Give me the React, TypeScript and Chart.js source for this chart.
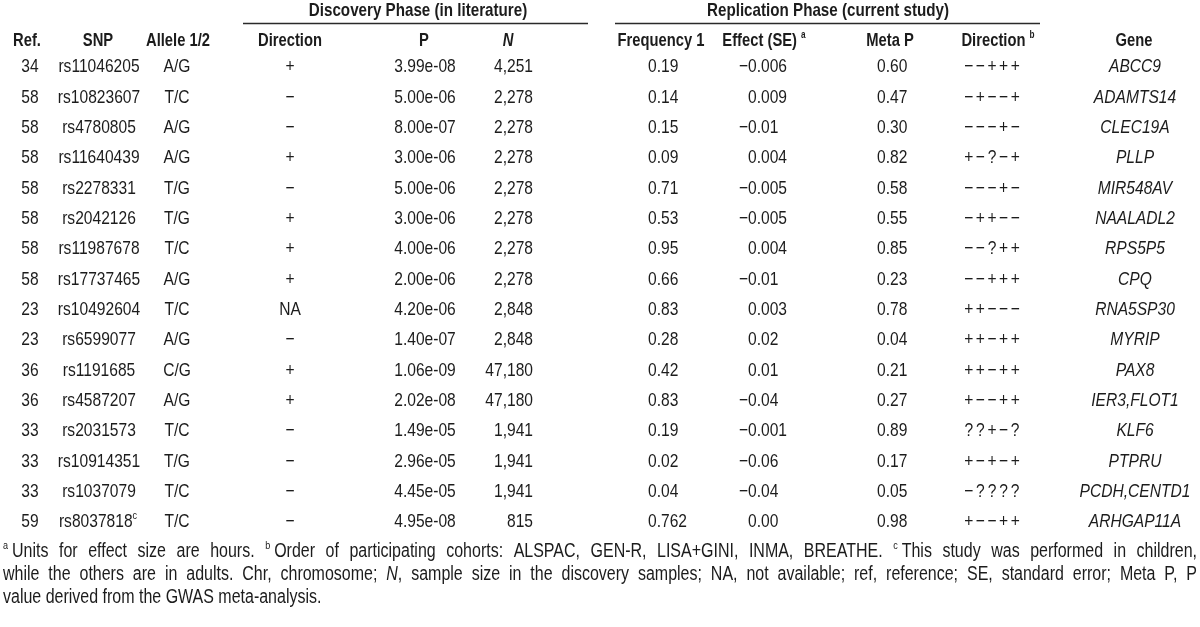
import React, { useEffect, useRef } from "react";
import { Chart, registerables } from "chart.js";
Chart.register(...registerables);

// ---------- DATA ----------
const refs = ["34", "58", "58", "58", "58", "58", "58", "58", "23", "23", "36", "36", "33", "33", "33", "59"];
const snps = ["rs11046205", "rs10823607", "rs4780805", "rs11640439", "rs2278331", "rs2042126", "rs11987678", "rs17737465", "rs10492604", "rs6599077", "rs1191685", "rs4587207", "rs2031573", "rs10914351", "rs1037079", "rs8037818"];
const snpNotes = ["", "", "", "", "", "", "", "", "", "", "", "", "", "", "", "c"];
const alleles = ["A/G", "T/C", "A/G", "A/G", "T/G", "T/G", "T/C", "A/G", "T/C", "A/G", "C/G", "A/G", "T/C", "T/G", "T/C", "T/C"];
const discDirection = ["+", "−", "−", "+", "−", "+", "+", "+", "NA", "−", "+", "+", "−", "−", "−", "−"];
const discP = ["3.99e-08", "5.00e-06", "8.00e-07", "3.00e-06", "5.00e-06", "3.00e-06", "4.00e-06", "2.00e-06", "4.20e-06", "1.40e-07", "1.06e-09", "2.02e-08", "1.49e-05", "2.96e-05", "4.45e-05", "4.95e-08"];
const discN = [4251, 2278, 2278, 2278, 2278, 2278, 2278, 2278, 2848, 2848, 47180, 47180, 1941, 1941, 1941, 815];
const freq1 = ["0.19", "0.14", "0.15", "0.09", "0.71", "0.53", "0.95", "0.66", "0.83", "0.28", "0.42", "0.83", "0.19", "0.02", "0.04", "0.762"];
const effect = ["-0.006", "0.009", "-0.01", "0.004", "-0.005", "-0.005", "0.004", "-0.01", "0.003", "0.02", "0.01", "-0.04", "-0.001", "-0.06", "-0.04", "0.00"];
const metaP = ["0.60", "0.47", "0.30", "0.82", "0.58", "0.55", "0.85", "0.23", "0.78", "0.04", "0.21", "0.27", "0.89", "0.17", "0.05", "0.98"];
const repDirection = ["−−+++", "−+−−+", "−−−+−", "+−?−+", "−−−+−", "−++−−", "−−?++", "−−+++", "++−−−", "++−++", "++−++", "+−−++", "??+−?", "+−+−+", "−????", "+−−++"];
const genes = ["ABCC9", "ADAMTS14", "CLEC19A", "PLLP", "MIR548AV", "NAALADL2", "RPS5P5", "CPQ", "RNA5SP30", "MYRIP", "PAX8", "IER3,FLOT1", "KLF6", "PTPRU", "PCDH,CENTD1", "ARHGAP11A"];

const groupHeaders = ["Discovery Phase (in literature)", "Replication Phase (current study)"];
const footnoteLines = [
  [{ t: "a", sup: true }, { t: "Units for effect size are hours. " }, { t: "b", sup: true }, { t: "Order of participating cohorts: ALSPAC, GEN-R, LISA+GINI, INMA, BREATHE. " }, { t: "c", sup: true }, { t: "This study was performed in children," }],
  [{ t: "while the others are in adults. Chr, chromosome; " }, { t: "N", italic: true }, { t: ", sample size in the discovery samples; NA, not available; ref, reference; SE, standard error; Meta P, P" }],
  [{ t: "value derived from the GWAS meta-analysis." }],
];

// ---------- LAYOUT / STYLE ----------
const FONT = "'Liberation Sans', Arial, sans-serif";
const SX = 0.82; // condensed face emulation
const BODY = 19;
const HEAD = 18;
const GROUP = 18.5;
const FOOT = 19.5;
const INK = "#1c1c1c";
const W = 1200, H = 627;
const ROW0 = 67, ROWH = 30.33;
const Y_MIN = -ROW0 / ROWH;
const Y_MAX = (H - ROW0) / ROWH;
const pxToRow = (px: number) => (px - ROW0) / ROWH;
const GROUP_Y = pxToRow(11);
const RULE_Y = pxToRow(23.5);
const HEAD_Y = pxToRow(41);
const FOOT_Y = [pxToRow(552), pxToRow(575), pxToRow(598)];

type Seg = { t: string; sup?: boolean; italic?: boolean; bold?: boolean };

function segFont(s: Seg, size: number, bold: boolean) {
  const sz = s.sup ? Math.round(size * 0.58) : size;
  return `${s.italic ? "italic " : ""}${bold || s.bold ? "bold " : ""}${sz}px ${FONT}`;
}
function tw(ctx: CanvasRenderingContext2D, t: string) {
  return ctx.measureText(t).width * SX;
}
function put(ctx: CanvasRenderingContext2D, t: string, x: number, y: number) {
  ctx.save();
  ctx.translate(x, y);
  ctx.scale(SX, 1);
  ctx.textAlign = "left";
  ctx.textBaseline = "middle";
  ctx.fillText(t, 0, 0);
  ctx.restore();
}
function segsWidth(ctx: CanvasRenderingContext2D, segs: Seg[], size: number, bold: boolean, gap: number) {
  let w = 0;
  for (const s of segs) {
    ctx.font = segFont(s, size, bold);
    w += tw(ctx, s.t) + (s.sup ? gap : 0);
  }
  return w;
}
function drawSegs(ctx: CanvasRenderingContext2D, segs: Seg[], x: number, y: number, align: string, size: number, bold: boolean, gap = 2, justifyTo?: number) {
  const natural = segsWidth(ctx, segs, size, bold, gap);
  let cx = x;
  if (align === "center") cx = x - natural / 2;
  else if (align === "right") cx = x - natural;
  let extra = 0;
  if (justifyTo) {
    const spaces = segs.reduce((n, s) => n + (s.t.match(/ /g) || []).length, 0);
    extra = spaces > 0 ? (justifyTo - natural) / spaces : 0;
  }
  for (const s of segs) {
    ctx.font = segFont(s, size, bold);
    const yy = s.sup ? y - size * 0.3 : y;
    if (!justifyTo) {
      put(ctx, s.t, cx, yy);
      cx += tw(ctx, s.t) + (s.sup ? gap : 0);
    } else {
      const parts = s.t.split(" ");
      parts.forEach((p, i) => {
        put(ctx, p, cx, yy);
        cx += tw(ctx, p);
        if (i < parts.length - 1) cx += tw(ctx, " ") + extra;
      });
      if (s.sup) cx += gap;
    }
  }
}

type Col = { x: number; align: string; kind?: string; cells: Seg[][] };
const rows = refs.map((_, i) => i);
const columns: Col[] = [
  { x: 30, align: "center", cells: refs.map((v) => [{ t: v }]) },
  { x: 99, align: "center", cells: snps.map((v, i) => (snpNotes[i] ? [{ t: v }, { t: snpNotes[i], sup: true }] : [{ t: v }])) },
  { x: 177, align: "center", cells: alleles.map((v) => [{ t: v }]) },
  { x: 290, align: "center", cells: discDirection.map((v) => [{ t: v }]) },
  { x: 425, align: "center", cells: discP.map((v) => [{ t: v }]) },
  { x: 533, align: "right", cells: discN.map((v) => [{ t: v.toLocaleString("en-US") }]) },
  { x: 648, align: "left", cells: freq1.map((v) => [{ t: v }]) },
  { x: 748, align: "left", kind: "decimal", cells: effect.map((v) => [{ t: v }]) },
  { x: 877, align: "left", cells: metaP.map((v) => [{ t: v }]) },
  { x: 992, align: "center", kind: "spaced", cells: repDirection.map((v) => [{ t: v }]) },
  { x: 1135, align: "center", cells: genes.map((v) => [{ t: v, italic: true }]) },
];
const headers: { x: number; segs: Seg[] }[] = [
  { x: 27, segs: [{ t: "Ref." }] },
  { x: 98, segs: [{ t: "SNP" }] },
  { x: 178, segs: [{ t: "Allele 1/2" }] },
  { x: 290, segs: [{ t: "Direction" }] },
  { x: 424, segs: [{ t: "P" }] },
  { x: 508, segs: [{ t: "N", italic: true }] },
  { x: 661, segs: [{ t: "Frequency 1" }] },
  { x: 765, segs: [{ t: "Effect (SE) " }, { t: "a", sup: true }] },
  { x: 890, segs: [{ t: "Meta P" }] },
  { x: 999, segs: [{ t: "Direction " }, { t: "b", sup: true }] },
  { x: 1134, segs: [{ t: "Gene" }] },
];
const groupX = [418, 828];
const rules = [[243, 588], [615, 1040]];

const datasets: any[] = [
  ...columns.map((c, ci) => ({
    type: "scatter",
    label: "col" + ci,
    data: rows.map((r) => ({ x: c.x, y: r })),
    pointRadius: 0,
    col: c,
  })),
  {
    type: "scatter",
    label: "headers",
    data: headers.map((h) => ({ x: h.x, y: HEAD_Y })),
    pointRadius: 0,
    header: headers,
  },
  {
    type: "scatter",
    label: "groups",
    data: groupX.map((x) => ({ x, y: GROUP_Y })),
    pointRadius: 0,
    group: groupHeaders,
  },
  {
    type: "scatter",
    label: "foot",
    data: FOOT_Y.map((y) => ({ x: 3, y })),
    pointRadius: 0,
    foot: footnoteLines,
  },
  ...rules.map((r, i) => ({
    type: "line",
    label: "rule" + i,
    data: [{ x: r[0], y: RULE_Y }, { x: r[1], y: RULE_Y }],
    borderColor: "#2a2a2a",
    borderWidth: 1.5,
    pointRadius: 0,
    showLine: true,
  })),
];

const tablePlugin = {
  id: "tableText",
  beforeDraw(chart: any) {
    const ctx = chart.ctx;
    ctx.save();
    ctx.fillStyle = "#ffffff";
    ctx.fillRect(0, 0, chart.width, chart.height);
    ctx.restore();
  },
  afterDatasetsDraw(chart: any) {
    const ctx: CanvasRenderingContext2D = chart.ctx;
    ctx.save();
    ctx.fillStyle = INK;
    chart.data.datasets.forEach((ds: any, di: number) => {
      const meta = chart.getDatasetMeta(di);
      meta.data.forEach((el: any, i: number) => {
        const x = el.x, y = el.y;
        if (ds.col) {
          const c: Col = ds.col;
          const segs = c.cells[i];
          if (c.kind === "decimal") {
            const v = segs[0].t;
            const neg = v.startsWith("-");
            const num = neg ? v.slice(1) : v;
            ctx.font = `${BODY}px ${FONT}`;
            put(ctx, num, x, y);
            if (neg) put(ctx, "−", x - tw(ctx, "−"), y);
          } else if (c.kind === "spaced") {
            const chars = segs[0].t.split("");
            const step = 11.6;
            ctx.font = `${BODY}px ${FONT}`;
            const start = x - ((chars.length - 1) * step) / 2;
            chars.forEach((ch, k) => put(ctx, ch, start + k * step - tw(ctx, ch) / 2, y));
          } else {
            drawSegs(ctx, segs, x, y, c.align, BODY, false);
          }
        } else if (ds.header) {
          drawSegs(ctx, ds.header[i].segs, x, y, "center", HEAD, true);
        } else if (ds.group) {
          drawSegs(ctx, [{ t: ds.group[i] }], x, y, "center", GROUP, true);
        } else if (ds.foot) {
          drawSegs(ctx, ds.foot[i], x, y, "left", FOOT, false, 4, i < 2 ? 1194 : undefined);
        }
      });
    });
    ctx.restore();
  },
};

export default function App() {
  const ref = useRef<HTMLCanvasElement>(null);
  useEffect(() => {
    document.body.style.margin = "0";
    const chart = new Chart(ref.current as HTMLCanvasElement, {
      type: "scatter",
      data: { datasets },
      options: {
        animation: false,
        responsive: false,
        maintainAspectRatio: false,
        events: [],
        layout: { padding: 0 },
        plugins: { legend: { display: false }, tooltip: { enabled: false }, title: { display: false } },
        scales: {
          x: { type: "linear", min: 0, max: W, display: false },
          y: { type: "linear", min: Y_MIN, max: Y_MAX, reverse: true, display: false },
        },
      },
      plugins: [tablePlugin],
    } as any);
    return () => chart.destroy();
  }, []);
  return (
    <div style={{ width: W, height: H, background: "#fff" }}>
      <canvas ref={ref} width={W} height={H} style={{ display: "block" }} />
    </div>
  );
}
